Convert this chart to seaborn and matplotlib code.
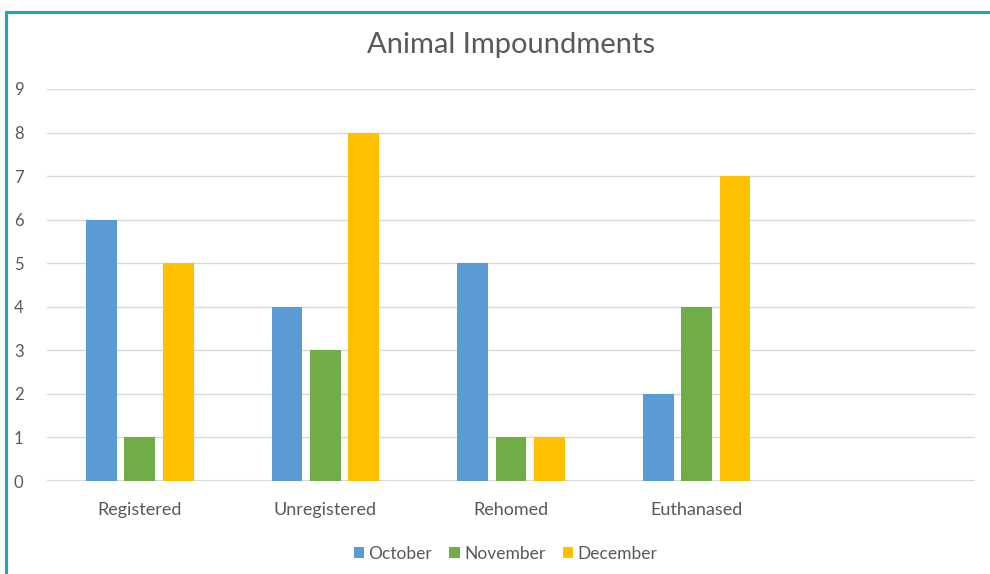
import pandas as pd
import matplotlib.pyplot as plt
import seaborn as sns
from matplotlib.patches import Rectangle

# Dados
categorias = ['Registered', 'Unregistered', 'Rehomed', 'Euthanased']
meses = ['October', 'November', 'December']
october = [6, 4, 5, 2]
november = [1, 3, 1, 4]
december = [5, 8, 1, 7]

df = pd.DataFrame({
    'categoria': categorias * 3,
    'mes': [m for m in meses for _ in categorias],
    'valor': october + november + december,
})

cores = ['#5B9BD5', '#70AD47', '#FFC000']
cinza = '#595959'

sns.set_style('white')
plt.rcParams['font.family'] = ['Lato', 'DejaVu Sans']

fig = plt.figure(figsize=(9.9, 5.74), dpi=100)
ax = fig.add_axes([0.0475, 0.162, 0.9375, 0.683])

sns.barplot(data=df, x='categoria', y='valor', hue='mes', order=categorias,
            hue_order=meses, palette=cores, width=0.62, gap=0.2,
            saturation=1, linewidth=0, ax=ax, legend=True)

ax.set_xlim(-0.5, 4.5)
ax.set_ylim(0, 9)
ax.set_yticks(range(0, 10))
ax.yaxis.grid(True, color='#D9D9D9', linewidth=1)
ax.axhline(0, color='#D9D9D9', linewidth=1.5, zorder=0.5)
ax.set_axisbelow(True)
for s in ax.spines.values():
    s.set_visible(False)
ax.tick_params(axis='y', length=0, pad=17, labelsize=12, labelcolor=cinza)
ax.tick_params(axis='x', length=0, pad=15, labelsize=13, labelcolor=cinza)
ax.set_xlabel('')
ax.set_ylabel('')

ax.set_title('Animal Impoundments', fontsize=21, color=cinza, pad=26)

ax.legend(loc='upper center', bbox_to_anchor=(0.494, -0.125), ncol=3, frameon=False,
          fontsize=12.5, labelcolor=cinza, handlelength=0.6, handleheight=0.6,
          handletextpad=0.25, columnspacing=1.0)

# borda verde-agua do quadro
fig.patches.append(Rectangle((6 / 990, -0.1), 1.2, 1 - 12 / 574 + 0.1,
                             transform=fig.transFigure, fill=False,
                             edgecolor='#1AA9B5', linewidth=2.2))

fig.savefig('out.png', dpi=100)
